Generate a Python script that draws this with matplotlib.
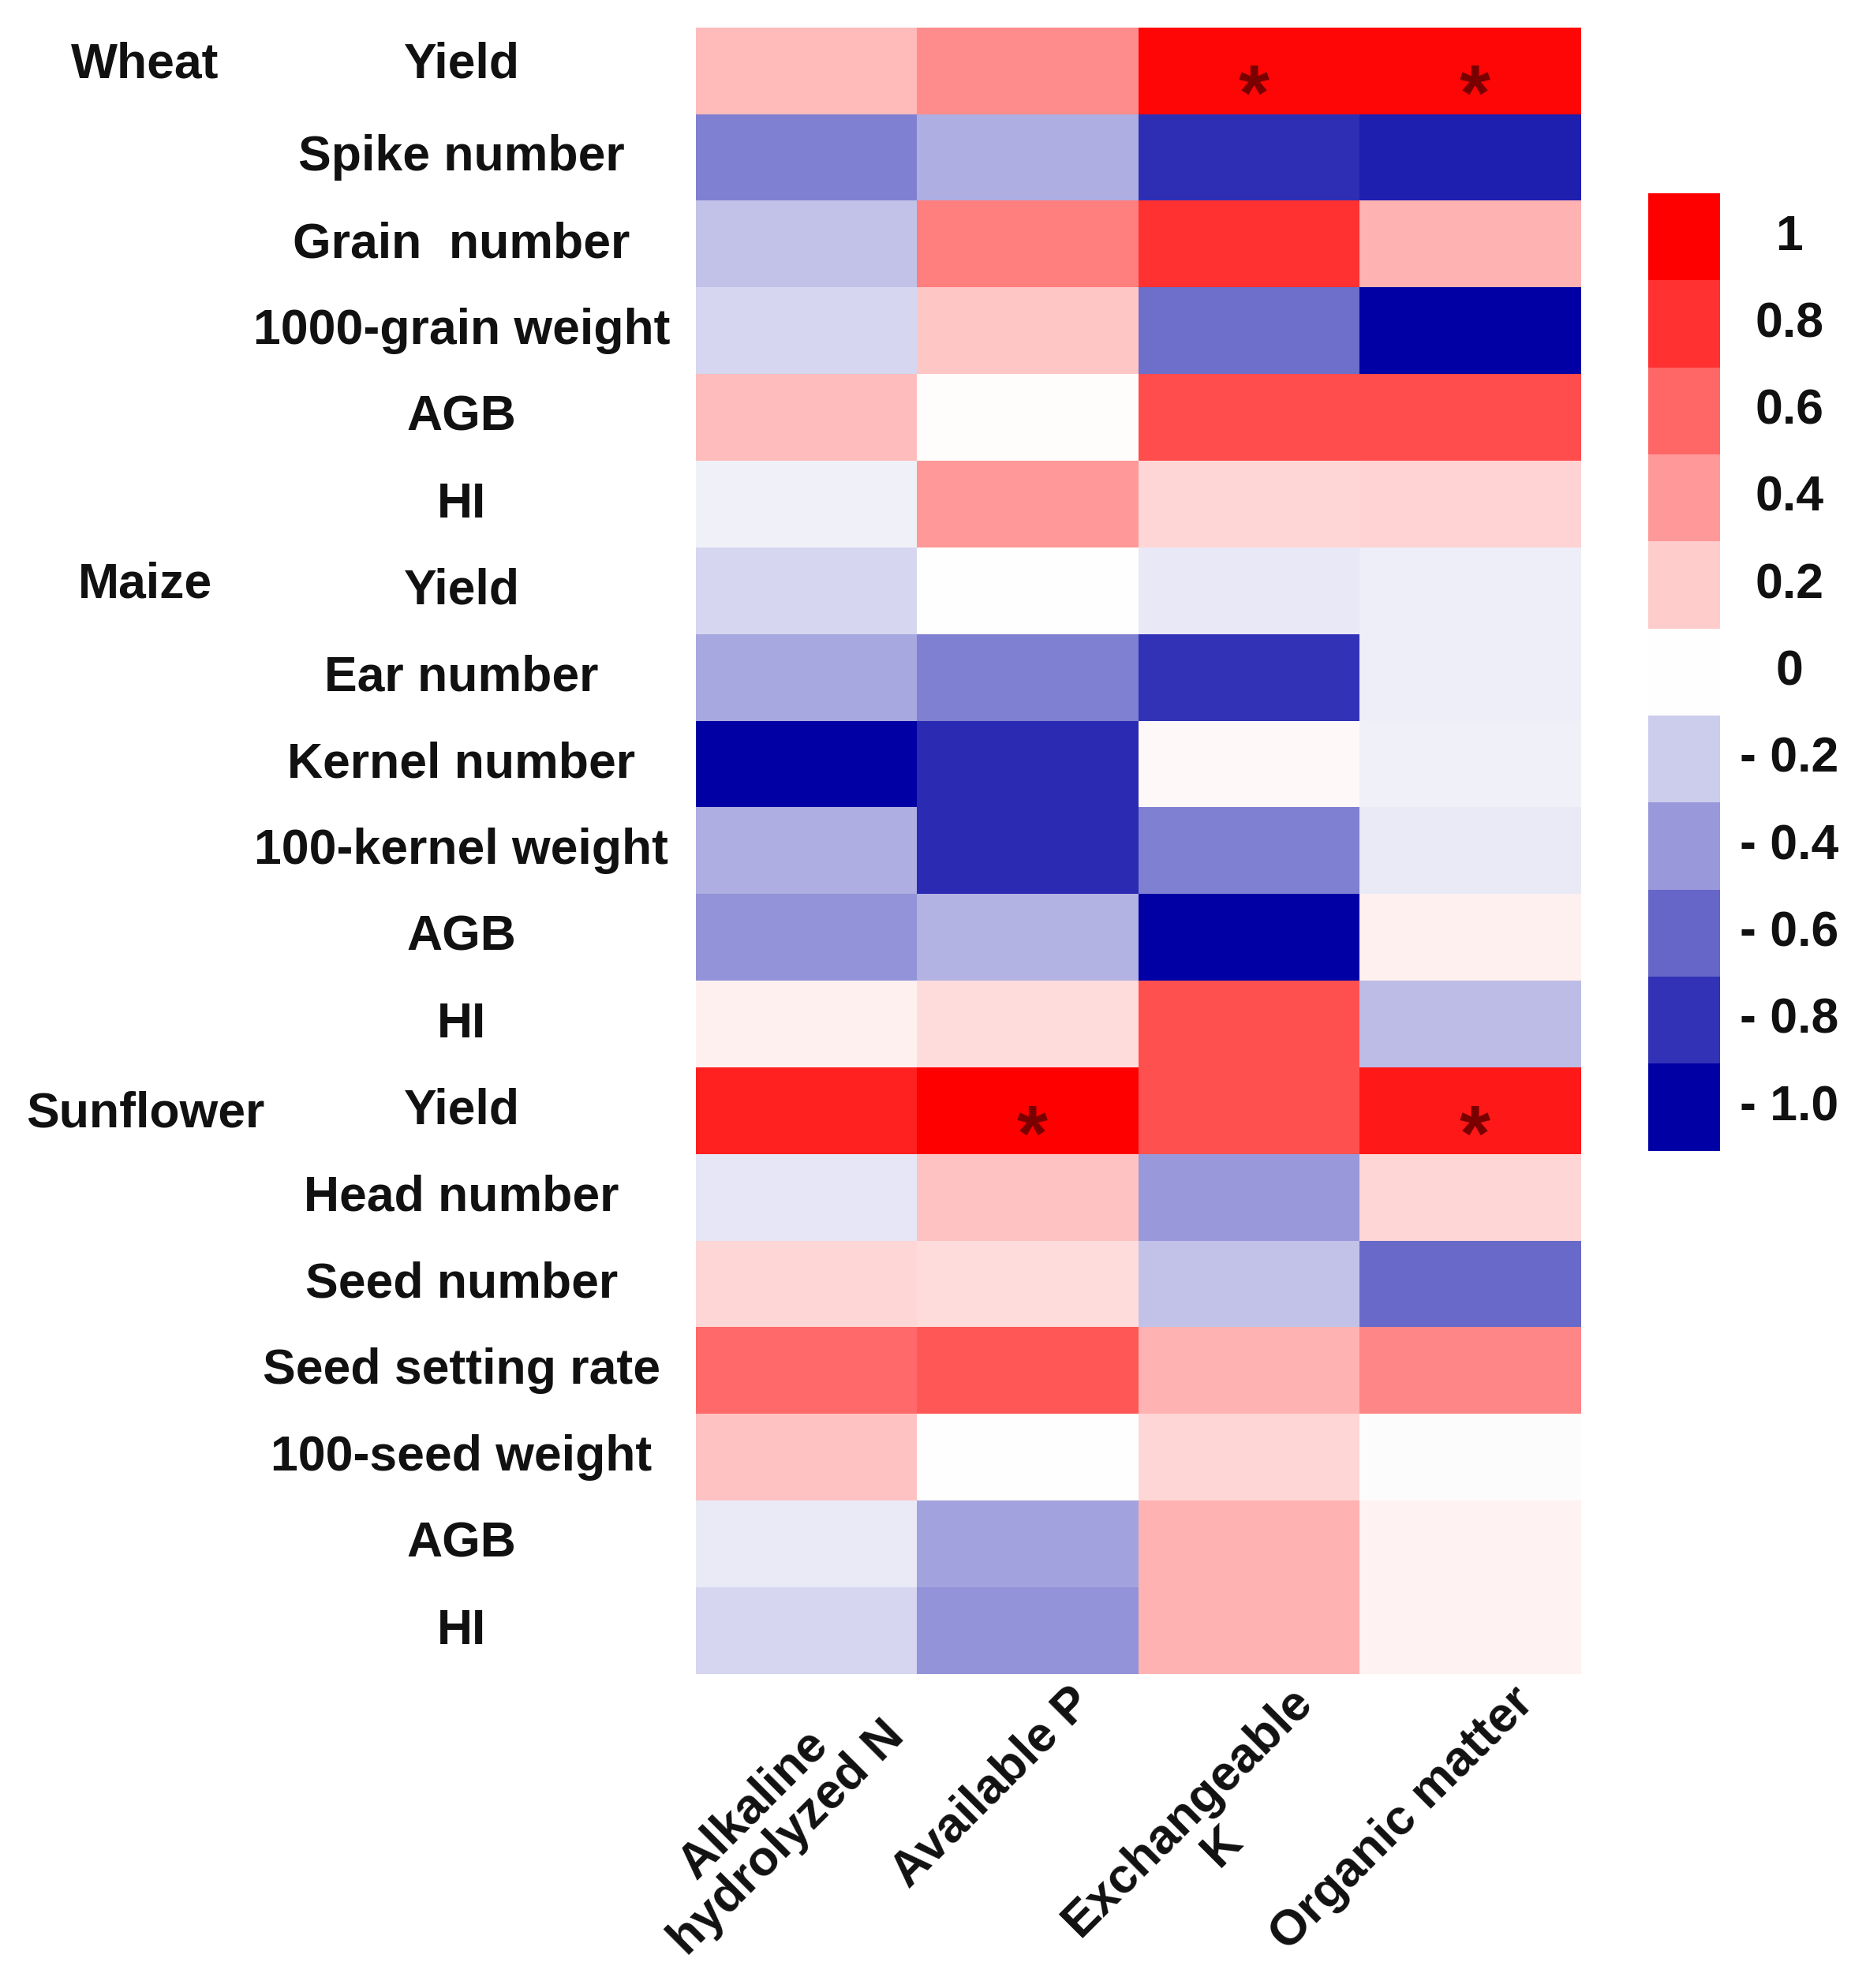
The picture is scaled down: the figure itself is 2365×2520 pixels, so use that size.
import matplotlib
matplotlib.use("Agg")
import matplotlib.pyplot as plt
import numpy as np
from matplotlib.colors import LinearSegmentedColormap
from matplotlib.transforms import blended_transform_factory

plt.rcParams['font.family'] = ['Liberation Sans', 'DejaVu Sans']

row_labels = ["Yield", "Spike number", "Grain  number", "1000-grain weight", "AGB", "HI",
              "Yield", "Ear number", "Kernel number", "100-kernel weight", "AGB", "HI",
              "Yield", "Head number", "Seed number", "Seed setting rate", "100-seed weight", "AGB", "HI"]
group_labels = ["Wheat", "Maize", "Sunflower"]
group_rows = [0, 6, 12]
col_labels = ["Alkaline\nhydrolyzed N", "Available P", "Exchangeable\nK", "Organic matter"]

alk_n = [0.27, -0.50, -0.24, -0.16, 0.26, -0.06,
         -0.16, -0.34, -1.00, -0.32, -0.42, 0.06,
         0.87, -0.10, 0.16, 0.58, 0.24, -0.08, -0.16]
avail_p = [0.45, -0.32, 0.50, 0.22, 0.01, 0.40,
           0.00, -0.50, -0.83, -0.83, -0.30, 0.14,
           1.00, 0.24, 0.14, 0.66, 0.00, -0.36, -0.42]
exch_k = [0.97, -0.82, 0.80, -0.57, 0.70, 0.16,
          -0.09, -0.80, 0.03, -0.50, -1.00, 0.68,
          0.68, -0.40, -0.24, 0.30, 0.16, 0.30, 0.30]
org_m = [0.97, -0.88, 0.30, -1.00, 0.70, 0.17,
         -0.07, -0.07, -0.06, -0.08, 0.06, -0.26,
         0.90, 0.16, -0.58, 0.47, -0.01, 0.05, 0.05]

# significance markers (row, col)
sig_rows = [0, 0, 12, 12]
sig_cols = [2, 3, 1, 3]

cbar_values = [1, 0.8, 0.6, 0.4, 0.2, 0, -0.2, -0.4, -0.6, -0.8, -1.0]
cbar_labels = ["1", "0.8", "0.6", "0.4", "0.2", "0", "- 0.2", "- 0.4", "- 0.6", "- 0.8", "- 1.0"]

data = np.array([alk_n, avail_p, exch_k, org_m]).T

cmap = LinearSegmentedColormap.from_list("rw_b", [(0.0, "#0000A5"), (0.5, "#FFFFFF"), (1.0, "#FF0000")])

W, H = 2365, 2520
fig = plt.figure(figsize=(W / 100, H / 100), dpi=100)

ax = fig.add_axes([882 / W, 1 - 2122 / H, (2004 - 882) / W, (2122 - 35) / H])
nrows, ncols = data.shape
ax.imshow(data, cmap=cmap, vmin=-1, vmax=1, aspect='auto', interpolation='nearest',
          extent=(-0.5, ncols - 0.5, nrows - 0.5, -0.5))
ax.set_xlim(-0.5, ncols - 0.5)
ax.set_ylim(nrows - 0.5, -0.5)
ax.set_xticks([])
ax.set_yticks([])
for s in ax.spines.values():
    s.set_visible(False)

fs = 45
trans = blended_transform_factory(fig.transFigure, ax.transData)
for i, lab in enumerate(row_labels):
    ax.text(585 / W, i - (0.07 if i == 0 else 0.0), lab, transform=trans, ha='center', va='center',
            fontsize=fs, fontweight='bold', color='#111111')
group_offsets = [-0.07, -0.07, 0.04]
for g, r, o in zip(group_labels, group_rows, group_offsets):
    ax.text(184 / W, r + o, g, transform=trans, ha='center', va='center',
            fontsize=fs, fontweight='bold', color='#111111')

for r, c in zip(sig_rows, sig_cols):
    ax.text(c + 0.02, r + 0.33, "*", ha='center', va='center', fontsize=72,
            fontweight='bold', color='#7A0000')

for j, lab in enumerate(col_labels):
    ax.text(j + 0.18, nrows - 0.5 + 0.05, lab, rotation=45, rotation_mode='anchor',
            ha='right', va='top', multialignment='center',
            fontsize=fs, fontweight='bold', color='#111111', linespacing=1.05)

# discrete colorbar
cax = fig.add_axes([2089 / W, 1 - 1459 / H, (2180 - 2089) / W, (1459 - 245) / H])
cb = np.array(cbar_values).reshape(-1, 1)
cax.imshow(cb, cmap=cmap, vmin=-1, vmax=1, aspect='auto', interpolation='nearest',
           extent=(0, 1, len(cbar_values) - 0.5, -0.5))
cax.set_xlim(0, 1)
cax.set_ylim(len(cbar_values) - 0.5, -0.5)
cax.set_xticks([])
cax.set_yticks([])
for s in cax.spines.values():
    s.set_visible(False)
ctrans = blended_transform_factory(fig.transFigure, cax.transData)
for k, lab in enumerate(cbar_labels):
    cax.text(2268 / W, k, lab, transform=ctrans, ha='center', va='center',
             fontsize=fs, fontweight='bold', color='#111111')

fig.savefig("out.png", dpi=100, facecolor='white')
